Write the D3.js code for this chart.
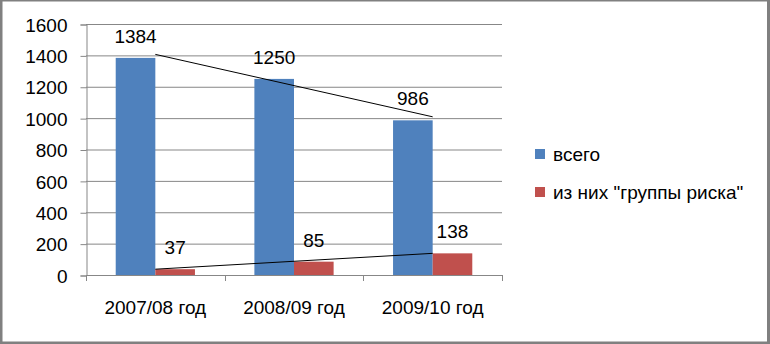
<!DOCTYPE html>
<html>
<head>
<meta charset="utf-8">
<script src="https://cdn.jsdelivr.net/npm/d3@7"></script>
<style>
  html, body { margin: 0; padding: 0; background: #fff; }
  svg { display: block; }
  text { font-family: "Liberation Sans", Arial, sans-serif; fill: #000; }
</style>
</head>
<body>
<svg id="chart" width="770" height="344"></svg>
<script>
// Data
const categories = ["2007/08 год", "2008/09 год", "2009/10 год"];
const seriesNames = ["всего", "из них \"группы риска\""];
const totalValues = [1384, 1250, 986];
const riskValues = [37, 85, 138];
const yTicks = [0, 200, 400, 600, 800, 1000, 1200, 1400, 1600];
const seriesColors = ["#4F81BD", "#C0504D"];

const series = [totalValues, riskValues];
const fontSize = 19;

const svg = d3.select("#chart");
const W = 770, H = 344;

// Frame with darker right/bottom edges
svg.append("rect").attr("x", 0).attr("y", 0).attr("width", W).attr("height", H).attr("fill", "#fff");
svg.append("rect").attr("x", 0).attr("y", 0).attr("width", W).attr("height", 1.5).attr("fill", "#808080");
svg.append("rect").attr("x", 0).attr("y", 0).attr("width", 2.5).attr("height", H).attr("fill", "#808080");
svg.append("rect").attr("x", W - 3).attr("y", 0).attr("width", 3).attr("height", H).attr("fill", "#808080");
svg.append("rect").attr("x", 0).attr("y", H - 2.5).attr("width", W).attr("height", 2.5).attr("fill", "#808080");

const plot = { left: 86, right: 502, top: 24, bottom: 275 };

const y = d3.scaleLinear().domain([0, 1600]).range([plot.bottom, plot.top]);
const x = d3.scaleBand().domain(categories).range([plot.left, plot.right]).padding(0);

// Bars take 1 unit each, gap of 1.5 units split on both sides
const bw = x.bandwidth() / 3.5;
const xs = d3.scaleBand().domain([0, 1]).range([bw * 0.75, bw * 2.75]).padding(0);

const gridColor = "#878787";

// Horizontal gridlines
svg.append("g").selectAll("line").data(yTicks).join("line")
  .attr("x1", plot.left).attr("x2", plot.right)
  .attr("y1", d => y(d) + 0.5).attr("y2", d => y(d) + 0.5)
  .attr("stroke", gridColor).attr("stroke-width", 1);

// Y axis
const yAxis = svg.append("g")
  .attr("transform", `translate(${plot.left + 0.5},0.5)`)
  .call(d3.axisLeft(y).tickValues(yTicks).tickSize(6).tickPadding(13).tickFormat(d3.format("d")));
yAxis.select(".domain").attr("stroke", gridColor);
yAxis.selectAll(".tick line").attr("stroke", gridColor);
yAxis.selectAll(".tick text").attr("font-size", fontSize).attr("font-family", "Liberation Sans, Arial, sans-serif").attr("fill", "#000").attr("dy", "0.35em");

// X axis baseline and boundary ticks
const bounds = categories.map(c => x(c)).concat([x(categories[categories.length - 1]) + x.bandwidth()]);
svg.append("line")
  .attr("x1", plot.left).attr("x2", plot.right)
  .attr("y1", plot.bottom + 0.5).attr("y2", plot.bottom + 0.5)
  .attr("stroke", gridColor);
svg.append("g").selectAll("line").data(bounds).join("line")
  .attr("x1", d => Math.round(d) + 0.5).attr("x2", d => Math.round(d) + 0.5)
  .attr("y1", plot.bottom).attr("y2", plot.bottom + 6)
  .attr("stroke", gridColor);

// Category labels
svg.append("g").selectAll("text").data(categories).join("text")
  .attr("x", d => x(d) + x.bandwidth() / 2)
  .attr("y", 314)
  .attr("text-anchor", "middle")
  .attr("font-size", fontSize)
  .text(d => d);

// Bars and value labels
series.forEach((vals, si) => {
  const g = svg.append("g");
  g.selectAll("rect").data(vals).join("rect")
    .attr("x", (d, i) => x(categories[i]) + xs(si))
    .attr("width", xs.bandwidth())
    .attr("y", d => y(d))
    .attr("height", d => y(0) - y(d))
    .attr("fill", seriesColors[si]);
  g.selectAll("text").data(vals).join("text")
    .attr("x", (d, i) => x(categories[i]) + xs(si) + xs.bandwidth() / 2)
    .attr("y", d => y(d) - 15)
    .attr("text-anchor", "middle")
    .attr("font-size", fontSize)
    .text(d => d);
});

// Trend lines from the first to the last season, drawn at the bar junction
const first = 0, last = categories.length - 1;
const junction = i => x(categories[i]) + xs(1);
const trendOffsets = [-3.5, 0];
series.forEach((vals, si) => {
  svg.append("line")
    .attr("x1", junction(first)).attr("y1", y(vals[first]) + trendOffsets[si])
    .attr("x2", junction(last)).attr("y2", y(vals[last]) + trendOffsets[si])
    .attr("stroke", "#000").attr("stroke-width", 1);
});

// Legend
const legend = svg.append("g");
const legendY = [154, 192];
seriesNames.forEach((name, i) => {
  legend.append("rect")
    .attr("x", 535).attr("y", legendY[i] - 5)
    .attr("width", 10).attr("height", 10)
    .attr("fill", seriesColors[i]);
  legend.append("text")
    .attr("x", 553).attr("y", legendY[i])
    .attr("dy", "0.35em")
    .attr("font-size", fontSize)
    .text(name);
});
</script>
</body>
</html>
